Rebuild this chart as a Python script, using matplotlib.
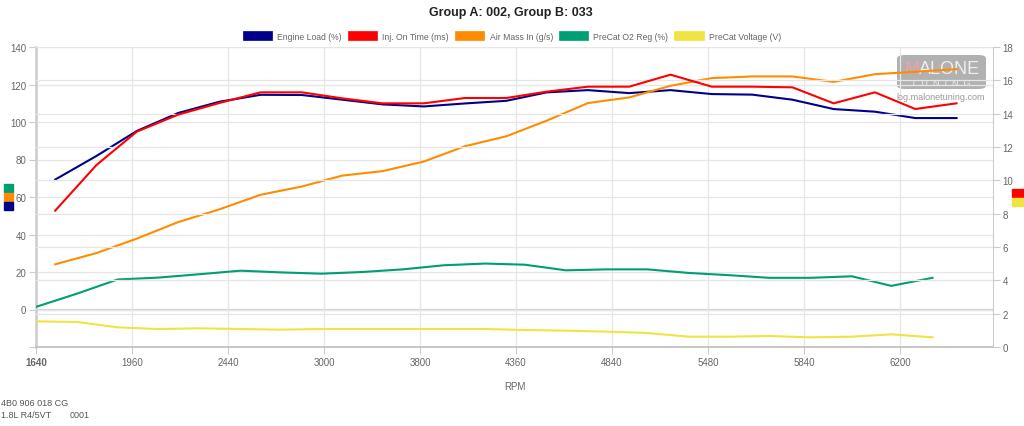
import matplotlib
matplotlib.use('Agg')
import matplotlib.pyplot as plt
from matplotlib.patches import Patch, FancyBboxPatch, Rectangle

plt.rcParams['font.family'] = ['Liberation Sans', 'DejaVu Sans']

# 时间轴（秒），A组和B组交替采样
t_a = [0.20, 0.63, 1.05, 1.48, 1.91, 2.34, 2.77, 3.19, 3.61, 4.04, 4.47, 4.90,
       5.32, 5.75, 6.18, 6.61, 7.04, 7.46, 7.88, 8.31, 8.74, 9.16, 9.59]
t_b = [0.00, 0.43, 0.85, 1.27, 1.70, 2.13, 2.55, 2.97, 3.40, 3.82, 4.25, 4.68,
       5.09, 5.52, 5.95, 6.37, 6.80, 7.22, 7.64, 8.07, 8.50, 8.91, 9.34]

# A组
engine_load = [69.3, 81.9, 95.2, 104.8, 110.8, 114.5, 114.4, 111.9, 109.4, 108.3, 109.9, 111.3,
               115.8, 117.0, 115.4, 117.0, 114.9, 114.6, 111.9, 106.9, 105.5, 102.1, 102.1]
inj_time = [8.18, 10.92, 12.92, 13.94, 14.64, 15.28, 15.28, 14.92, 14.62, 14.62, 14.94, 14.94,
            15.32, 15.62, 15.62, 16.34, 15.62, 15.62, 15.58, 14.62, 15.28, 14.28, 14.62]
air_mass = [24.1, 30.1, 37.8, 46.6, 53.4, 61.2, 65.6, 71.4, 73.8, 78.9, 87.1, 92.4,
            100.7, 110.1, 113.1, 119.3, 123.4, 124.3, 124.3, 121.4, 125.5, 126.8, 128.2]
# B组
o2_reg = [1.4, 8.5, 16.0, 17.0, 18.8, 20.7, 19.8, 19.1, 20.0, 21.4, 23.6, 24.5,
          23.9, 20.9, 21.4, 21.4, 19.5, 18.3, 16.9, 16.9, 17.7, 12.6, 16.9]
o2_volt = [1.54, 1.50, 1.18, 1.08, 1.12, 1.08, 1.04, 1.08, 1.08, 1.08, 1.08, 1.08,
           1.02, 0.98, 0.92, 0.84, 0.62, 0.62, 0.66, 0.58, 0.62, 0.76, 0.58]

# x轴标签（转速）
tick_pos = [0, 1, 2, 3, 4, 5, 6, 7, 8, 9]
rpm_labels = ['1640', '1960', '2440', '3000', '3800', '4360', '4840', '5480', '5840', '6200']

names = ['Engine Load (%)', 'Inj. On Time (ms)', 'Air Mass In (g/s)', 'PreCat O2 Reg (%)', 'PreCat Voltage (V)']
colors = ['#00008b', '#ff0000', '#ff8c00', '#009e73', '#f0e442']

grid_c = '#e6e6e6'
txt_c = '#666666'

fig = plt.figure(figsize=(10.24, 4.27), dpi=100)
ax = fig.add_axes([36/1024, 1-348/427, (993-36)/1024, 300/427])
ax2 = ax.twinx()
ax.patch.set_alpha(0)
ax2.patch.set_alpha(0)

ax.plot(t_a, engine_load, color=colors[0], lw=1.5, zorder=3)
ax.plot(t_a, air_mass, color=colors[2], lw=1.5, zorder=3)
ax.plot(t_b, o2_reg, color=colors[3], lw=1.5, zorder=3)
ax2.plot(t_a, inj_time, color=colors[1], lw=1.5, zorder=3)
ax2.plot(t_b, o2_volt, color=colors[4], lw=1.5, zorder=3)

ax.set_xlim(0, 9.97)
ax.set_ylim(-20, 140)
ax2.set_ylim(0, 18)

ax.set_xticks(tick_pos)
ax.set_xticklabels(rpm_labels)
ax.get_xticklabels()[0].set_fontweight('bold')
ax.set_yticks(range(-20, 141, 20))
ax.set_yticklabels([''] + [str(v) for v in range(0, 141, 20)])
ax2.set_yticks(range(0, 19, 2))

for a in (ax, ax2):
    a.tick_params(labelsize=7, colors=txt_c, length=5, width=0.8, pad=2)
    a.tick_params(axis='both', color='#cccccc')
    for s in a.spines.values():
        s.set_visible(False)

ax.grid(True, color=grid_c, lw=0.9, zorder=0)
ax2.grid(True, axis='y', color=grid_c, lw=0.9, zorder=0)
ax.axhline(0, color='#d2d2d2', lw=1.6, zorder=1)
ax.spines['left'].set_visible(True)
ax.spines['left'].set_color('#cccccc')
ax.spines['left'].set_linewidth(1.8)
ax.spines['bottom'].set_visible(True)
ax.spines['bottom'].set_color('#bbbbbb')
ax.spines['bottom'].set_linewidth(1.2)
ax2.spines['right'].set_visible(True)
ax2.spines['right'].set_color('#cccccc')
ax2.spines['right'].set_linewidth(0.8)
ax.set_xlabel('RPM', fontsize=7, color=txt_c, labelpad=10)

fig.text(0.499, 1-13/427, 'Group A: 002, Group B: 033', ha='center', va='center',
         fontsize=9, fontweight='bold', color='#222222')

handles = [Patch(facecolor=c, edgecolor=c, lw=0.5) for c in colors]
fig.legend(handles, names, loc='center', bbox_to_anchor=(0.5, 1-37/427), ncol=5,
           frameon=False, fontsize=6.2, labelcolor=txt_c, handlelength=3.4,
           handleheight=1.15, handletextpad=0.6, columnspacing=0.7)

# 两侧的轴颜色标记
for i, c in enumerate([colors[3], colors[2], colors[0]]):
    fig.add_artist(Rectangle((4/1024, 1-(193+9*i)/427), 9/1024, 8.5/427, color=c,
                             transform=fig.transFigure))
for i, c in enumerate([colors[1], colors[4]]):
    fig.add_artist(Rectangle((1012/1024, 1-(198+9*i)/427), 12/1024, 8.5/427, color=c,
                             transform=fig.transFigure))

# 水印，放在曲线下面
fig.add_artist(FancyBboxPatch((897/1024, 1-90/427), 89/1024, 34/427,
                              boxstyle='round,pad=0,rounding_size=0.008',
                              fc='#a9a9a9', ec='none', alpha=0.9, transform=fig.transFigure,
                              zorder=-1))
fig.text(904/1024, 1-70/427, 'M', fontsize=13, color='#f2a0a8', va='center', ha='left', zorder=-1)
fig.text(919/1024, 1-70/427, 'ALONE', fontsize=13, color='#f1eded', va='center', ha='left', zorder=-1)
fig.text(941/1024, 1-83/427, 'T  U  N  I  N  G', fontsize=6.5, color='#f1eded', va='center',
         ha='center', zorder=-1)
fig.text(941/1024, 1-98/427, 'log.malonetuning.com', fontsize=6.5, color='#999999',
         va='center', ha='center')

fig.text(1/1024, 1-404/427, '4B0 906 018 CG', fontsize=6.5, color='#555555', va='center')
fig.text(1/1024, 1-416/427, '1.8L R4/5VT', fontsize=6.5, color='#555555', va='center')
fig.text(70/1024, 1-416/427, '0001', fontsize=6.5, color='#555555', va='center')

plt.savefig('out.png', dpi=100)
